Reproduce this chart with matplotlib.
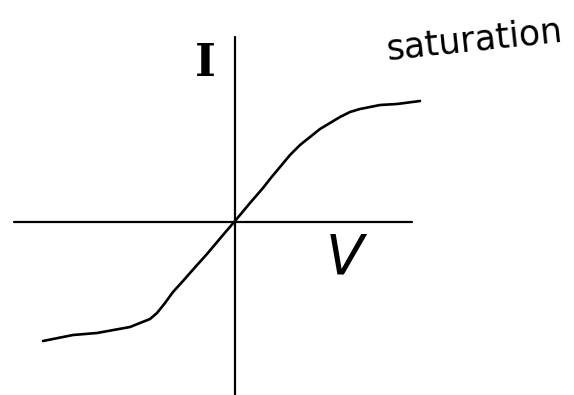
import matplotlib.pyplot as plt
import numpy as np

# I-V curve sketched by hand (arbitrary units)
V = [-1.92, -1.62, -1.38, -1.05, -0.95, -0.85, -0.78, -0.70, -0.62, -0.52, -0.45,
     -0.37, -0.28, -0.12, 0.0, 0.15, 0.28, 0.35, 0.45, 0.55, 0.65, 0.75, 0.85,
     0.95, 1.05, 1.15, 1.25, 1.35, 1.45, 1.62, 1.85]
I = [-1.19, -1.13, -1.11, -1.05, -1.01, -0.97, -0.91, -0.81, -0.70, -0.59, -0.51,
     -0.42, -0.32, -0.13, 0.01, 0.19, 0.34, 0.43, 0.55, 0.67, 0.77, 0.85, 0.93,
     0.99, 1.05, 1.10, 1.13, 1.15, 1.17, 1.18, 1.21]

V_AXIS = (-2.21, 1.77)
I_AXIS = (-1.73, 1.85)

fig = plt.figure(figsize=(5.74, 3.95), dpi=100)
ax = fig.add_axes([0, 0, 1, 1])
ax.set_xlim(-2.35, 3.39)
ax.set_ylim(-1.73, 2.22)
ax.axis('off')

# axes of the sketch
ax.plot(V_AXIS, [0, 0], color='k', lw=1.6, solid_capstyle='round')
ax.plot([0, 0], I_AXIS, color='k', lw=1.6, solid_capstyle='round')

ax.plot(V, I, color='k', lw=1.9, solid_capstyle='round', solid_joinstyle='round')

ax.text(-0.30, 1.59, 'I', fontsize=32, family='DejaVu Serif', weight='bold',
        ha='center', va='center')
ax.text(1.10, -0.36, 'V', fontsize=40, family='DejaVu Sans', style='italic',
        ha='center', va='center')
ax.text(2.39, 1.82, 'saturation', fontsize=25, family='DejaVu Sans',
        rotation=6, ha='center', va='center')

plt.savefig('out.png', dpi=100)
